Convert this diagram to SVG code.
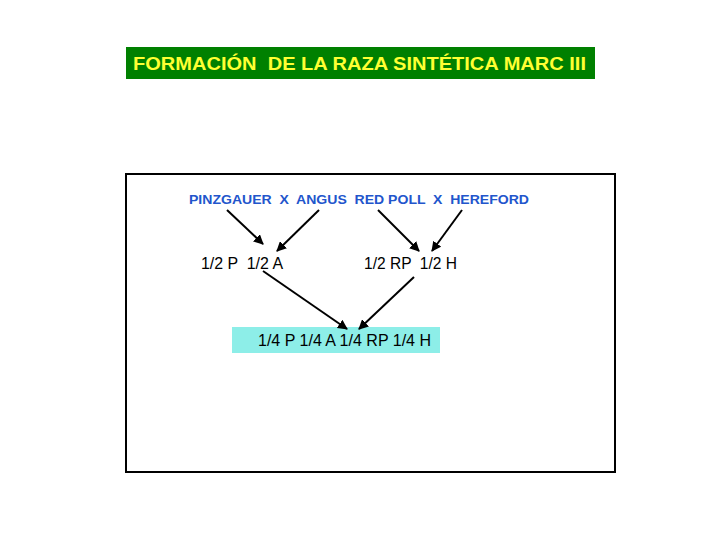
<svg xmlns="http://www.w3.org/2000/svg" width="720" height="540" viewBox="0 0 720 540">
<style>
.title{font-family:"Liberation Sans",Arial,sans-serif;font-weight:bold;font-size:18px;fill:#ffff33}
.breeds{font-family:"Liberation Sans",Arial,sans-serif;font-weight:bold;font-size:12.5px;fill:#2255cc}
.lbl{font-family:"Liberation Sans",Arial,sans-serif;font-size:16px;fill:#000}
.conn line{stroke:#000;stroke-width:2}
</style>
<defs>
<marker id="ah" viewBox="0 0 10 10" refX="9" refY="5" markerWidth="5" markerHeight="5" orient="auto" markerUnits="strokeWidth">
<path d="M0,0 L10,5 L0,10 z" fill="#000"/>
</marker>
</defs>
<rect width="720" height="540" fill="#fff"/>
<g id="title">
<rect x="126" y="47" width="469" height="32" fill="#008000"/>
<text class="title" x="133" y="70" textLength="453" lengthAdjust="spacingAndGlyphs" xml:space="preserve">FORMACIÓN  DE LA RAZA SINTÉTICA MARC III</text>
</g>
<g id="frame">
<rect x="126" y="174" width="489" height="298" fill="none" stroke="#000" stroke-width="2"/>
</g>
<g id="breeds">
<text class="breeds" x="189" y="204" textLength="340" lengthAdjust="spacingAndGlyphs" xml:space="preserve">PINZGAUER  X  ANGUS  RED POLL  X  HEREFORD</text>
</g>
<g id="cross1">
<text class="lbl" x="201" y="269" textLength="82" lengthAdjust="spacingAndGlyphs" xml:space="preserve">1/2 P  1/2 A</text>
</g>
<g id="cross2">
<text class="lbl" x="364" y="269" textLength="93" lengthAdjust="spacingAndGlyphs" xml:space="preserve">1/2 RP  1/2 H</text>
</g>
<g id="result">
<rect x="232" y="327" width="208" height="26" fill="#8deee8"/>
<text class="lbl" x="258" y="346" textLength="173" lengthAdjust="spacingAndGlyphs">1/4 P 1/4 A 1/4 RP 1/4 H</text>
</g>
<g class="conn" id="connectors">
<line x1="227" y1="210" x2="263" y2="244" marker-end="url(#ah)"/>
<line x1="319" y1="210" x2="277" y2="251" marker-end="url(#ah)"/>
<line x1="378" y1="210" x2="419" y2="251" marker-end="url(#ah)"/>
<line x1="462" y1="210" x2="432" y2="251" marker-end="url(#ah)"/>
<line x1="263" y1="271" x2="347" y2="329" marker-end="url(#ah)"/>
<line x1="414" y1="277" x2="359" y2="329" marker-end="url(#ah)"/>
</g>
</svg>
